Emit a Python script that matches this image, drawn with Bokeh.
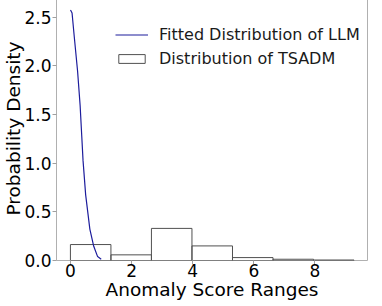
from bokeh.plotting import figure
from bokeh.models import Range1d, Legend, LegendItem, FixedTicker, NumeralTickFormatter
from bokeh.embed import file_html
from bokeh.resources import INLINE

# Histogram (density) of TSADM anomaly scores
bin_edges = [0.0, 1.326, 2.651, 3.977, 5.303, 6.629, 7.954, 9.28]
densities = [0.164, 0.058, 0.330, 0.150, 0.030, 0.013, 0.005]

# Fitted distribution of LLM
fit_x = [0.0, 0.02, 0.054, 0.127, 0.235, 0.318, 0.372, 0.413, 0.499, 0.636, 0.763, 0.890, 1.008]
fit_y = [2.573, 2.565, 2.545, 2.298, 1.945, 1.593, 1.274, 1.029, 0.675, 0.323, 0.146, 0.040, 0.013]

x_ticks = [0, 2, 4, 6, 8]
y_ticks = [0.0, 0.5, 1.0, 1.5, 2.0, 2.5]

FONT = "DejaVu Sans"

p = figure(width=374, height=306, output_backend="svg", toolbar_location=None,
           x_range=Range1d(-0.455, 9.72), y_range=Range1d(0, 2.714),
           min_border_top=0, min_border_left=47, min_border_right=7, min_border_bottom=40)
p.margin = (-4, 0, 0, 0)

p.grid.visible = False
p.background_fill_color = "white"
p.outline_line_color = "#b0b0b0"
p.outline_line_width = 1

hist = p.quad(left=bin_edges[:-1], right=bin_edges[1:], bottom=0, top=densities,
              fill_color=None, line_color="#505050", line_width=1)
line = p.line(fit_x, fit_y, line_color="#1c1c9c", line_width=1.2)

for ax in (p.xaxis[0], p.yaxis[0]):
    ax.axis_line_color = None
    ax.major_tick_line_color = "#a0a0a0"
    ax.major_tick_out = 4
    ax.major_tick_in = 0
    ax.minor_tick_line_color = None
    ax.major_label_text_font = FONT
    ax.major_label_text_font_size = "17px"
    ax.major_label_text_color = "black"
    ax.axis_label_text_font = FONT
    ax.axis_label_text_font_size = "18.5px"
    ax.axis_label_text_font_style = "normal"
    ax.axis_label_text_color = "black"

p.xaxis.ticker = FixedTicker(ticks=x_ticks)
p.yaxis.ticker = FixedTicker(ticks=y_ticks)
p.yaxis.formatter = NumeralTickFormatter(format="0.0")
p.xaxis.axis_label = "Anomaly Score Ranges"
p.yaxis.axis_label = "Probability Density"
p.xaxis.major_label_standoff = -1
p.xaxis.axis_label_standoff = -1
p.yaxis.major_label_standoff = 1
p.yaxis.axis_label_standoff = -3

legend = Legend(items=[LegendItem(label="Fitted Distribution of LLM", renderers=[line]),
                       LegendItem(label="Distribution of TSADM", renderers=[hist])],
                location=(59, 191), border_line_color=None, background_fill_alpha=0,
                padding=0, margin=0, spacing=3, glyph_width=33, glyph_height=11,
                label_height=21, label_standoff=11,
                label_text_font=FONT, label_text_font_size="16px", label_text_color="#1a1a1a")
p.add_layout(legend)

open("out.html", "w").write(file_html(p, INLINE))
